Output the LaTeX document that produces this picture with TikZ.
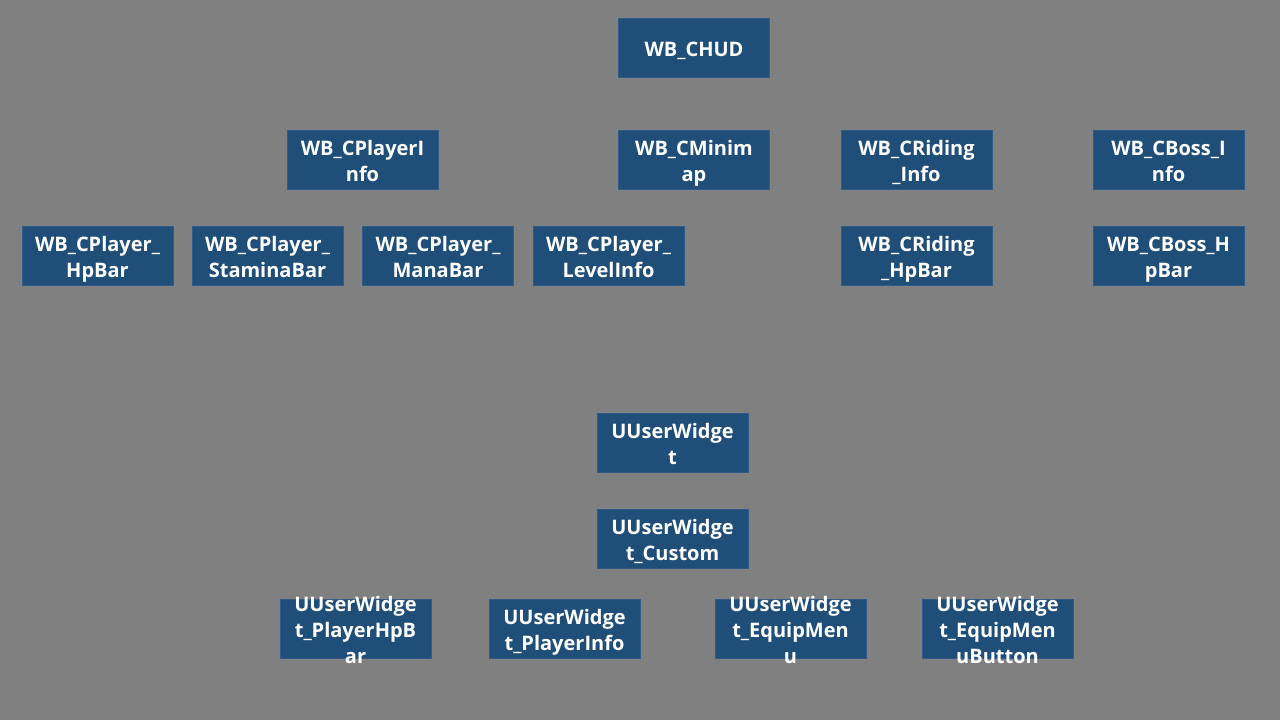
\documentclass[tikz,border=0pt]{standalone}
\usepackage{fontspec}
\setmainfont{Open Sans}
\definecolor{bg}{HTML}{808080}
\definecolor{boxfill}{HTML}{1F4E79}
\definecolor{boxline}{HTML}{2F5A8A}
\begin{document}
\begin{tikzpicture}[x=1pt,y=-1pt,
  wbox/.style={draw=boxline, fill=boxfill, line width=0.8pt, minimum width=151pt, minimum height=59pt,
    inner sep=0pt},
  wtxt/.style={inner sep=0pt, align=center, text=white, yshift=-3.5pt, font=\fontsize{20}{26}\selectfont\bfseries}]
\fill[bg] (0,0) rectangle (1280,720);
\useasboundingbox (0,0) rectangle (1280,720);
\newcommand{\wb}[3]{\node[wbox] (#1) at (#2) {}; \node[wtxt] (#1t) at (#1.center) {\strut#3\strut};}
\wb{chud}{694,47.5}{WB\_CHUD}
\wb{pinfo}{362.5,159.5}{WB\_CPlayerI\\nfo}
\wb{minimap}{694,159.5}{WB\_CMinim\\ap}
\wb{rinfo}{916.5,159.5}{WB\_CRiding\\\_Info}
\wb{binfo}{1168.5,159.5}{WB\_CBoss\_I\\nfo}
\wb{php}{97.5,255.5}{WB\_CPlayer\_\\HpBar}
\wb{pst}{267.5,255.5}{WB\_CPlayer\_\\StaminaBar}
\wb{pmn}{438,255.5}{WB\_CPlayer\_\\ManaBar}
\wb{plv}{608.5,255.5}{WB\_CPlayer\_\\LevelInfo}
\wb{rhp}{916.5,255.5}{WB\_CRiding\\\_HpBar}
\wb{bhp}{1168.5,255.5}{WB\_CBoss\_H\\pBar}
\wb{uw}{672.5,442.5}{UUserWidge\\t}
\wb{uwc}{672.5,538.5}{UUserWidge\\t\_Custom}
\wb{uwhp}{355.5,629}{UUserWidge\\t\_PlayerHpB\\ar}
\wb{uwpi}{564.5,629}{UUserWidge\\t\_PlayerInfo}
\wb{uwem}{790.5,629}{UUserWidge\\t\_EquipMen\\u}
\wb{uwemb}{997.5,629}{UUserWidge\\t\_EquipMen\\uButton}
\end{tikzpicture}
\end{document}
